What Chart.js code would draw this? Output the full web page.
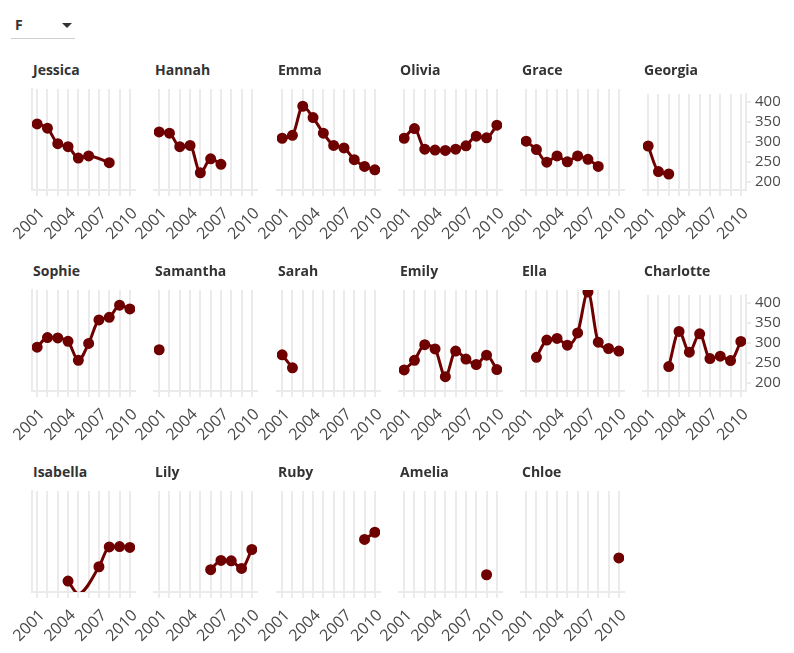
<!DOCTYPE html>
<html>
<head>
<meta charset="utf-8">
<script src="https://cdn.jsdelivr.net/npm/chart.js@4.4.1/dist/chart.umd.min.js"></script>
<style>
  body { margin: 0; background: #fff; font-family: "Open Sans", sans-serif; }
  #wrap { position: relative; width: 794px; height: 653px; overflow: hidden; }
  .picker { position: absolute; left: 11px; top: 12px; width: 64px; height: 26px; border-bottom: 1px solid #d0d0d0; }
  .picker span { position: absolute; left: 4px; top: 5px; font-size: 14px; font-weight: 700; color: #333; line-height: 16px; }
  .picker i { position: absolute; left: 51px; top: 11px; width: 0; height: 0; border-left: 5px solid transparent; border-right: 5px solid transparent; border-top: 5px solid #333; }
  .title { position: absolute; font-size: 14px; font-weight: 700; color: #333; line-height: 16px; white-space: nowrap; }
  canvas { position: absolute; }
</style>
</head>
<body>
<div id="wrap">
  <div class="picker"><span>F</span><i></i></div>
</div>
<script>
const years = ['2001', '2002', '2003', '2004', '2005', '2006', '2007', '2008', '2009', '2010'];
const yTicks = [200, 250, 300, 350, 400];
const yMin = 180, yMax = 420;

const jessica   = [337, 327, 290, 283, 256, 261, null, 245, null, null];
const hannah    = [318, 315, 283, 286, 221, 254, 241, null, null, null];
const emma      = [303, 310, 379, 352, 315, 286, 280, 252, 236, 228];
const olivia    = [303, 326, 277, 275, 274, 277, 285, 308, 304, 334];
const grace     = [296, 276, 246, 261, 247, 261, 253, 236, null, null];
const georgia   = [290, 226, 220, null, null, null, null, null, null, null];
const sophie    = [284, 307, 306, 298, 253, 293, 349, 355, 384, 375];
const samantha  = [278, null, null, null, null, null, null, null, null, null];
const sarah     = [266, 235, null, null, null, null, null, null, null, null];
const emily     = [230, 253, 290, 280, 214, 275, 256, 243, 265, 231];
const ella      = [null, 260, 301, 305, 289, 318, 415, 296, 281, 275];
const charlotte = [null, null, 241, 329, 277, 323, 261, 267, 256, 304];
const isabella  = [null, null, null, 206, 176, null, 240, 287, 288, 286];
const lily      = [null, null, null, null, null, 233, 255, 254, 236, 281];
const ruby      = [null, null, null, null, null, null, null, null, 305, 322];
const amelia    = [null, null, null, null, null, null, null, null, 221, null];
const chloe     = [null, null, null, null, null, null, null, null, null, 261];

const names = ['Jessica', 'Hannah', 'Emma', 'Olivia', 'Grace', 'Georgia',
               'Sophie', 'Samantha', 'Sarah', 'Emily', 'Ella', 'Charlotte',
               'Isabella', 'Lily', 'Ruby', 'Amelia', 'Chloe'];
const values = [jessica, hannah, emma, olivia, grace, georgia,
                sophie, samantha, sarah, emily, ella, charlotte,
                isabella, lily, ruby, amelia, chloe];

const red = '#6e0000';
const gridColor = '#ebebeb';
const tickColor = '#4a4a4a';

// small multiples layout
const plotW = 103, plotH = 101;
const padL = 32, padT = 8, axisH = 52, yAxisW = 50;

const wrap = document.getElementById('wrap');

names.forEach((name, i) => {
  const col = i % 6, row = Math.floor(i / 6);
  const first = col === 0, last = col === 5;
  const plotLeft = Math.round(32 + 122.25 * col);
  const plotTop = 89 + 201 * row;

  const title = document.createElement('div');
  title.className = 'title';
  title.textContent = name;
  title.style.left = (plotLeft + 1) + 'px';
  title.style.top = (plotTop - 27) + 'px';
  wrap.appendChild(title);

  const canvas = document.createElement('canvas');
  const w = padL + plotW + yAxisW, h = padT + plotH + axisH;
  canvas.width = w; canvas.height = h;
  canvas.style.width = w + 'px'; canvas.style.height = h + 'px';
  canvas.style.left = (plotLeft - padL) + 'px';
  canvas.style.top = (plotTop - padT) + 'px';
  wrap.appendChild(canvas);

  new Chart(canvas, {
    type: 'line',
    data: {
      labels: years,
      datasets: [{
        data: values[i],
        borderColor: red,
        backgroundColor: red,
        borderWidth: 3,
        // values below the axis floor keep their line but lose the dot
        pointRadius: c => c.raw < yMin ? 0 : 4,
        pointHoverRadius: 4,
        spanGaps: true,
        cubicInterpolationMode: 'monotone',
        clip: 0
      }]
    },
    options: {
      responsive: false,
      animation: false,
      events: [],
      layout: { padding: { left: padL, right: last ? 0 : yAxisW, top: padT, bottom: 0 } },
      plugins: { legend: { display: false }, tooltip: { enabled: false } },
      scales: {
        x: {
          offset: true,
          grid: { color: gridColor, lineWidth: 2, tickLength: 6, offset: false },
          border: { color: gridColor, width: 2 },
          ticks: {
            autoSkip: false, maxRotation: 45, minRotation: 45, padding: 8, labelOffset: 5,
            color: tickColor, font: { family: 'Open Sans', size: 16 },
            callback: (v, k) => k % 3 === 0 ? years[k] : ''
          },
          afterFit: s => { s.height = axisH; }
        },
        y: {
          min: yMin, max: yMax,
          display: first || last,
          position: first ? 'left' : 'right',
          afterBuildTicks: s => { s.ticks = yTicks.map(v => ({ value: v })); },
          afterFit: s => { s.width = last ? yAxisW : 0; },
          grid: { drawOnChartArea: false, drawTicks: last, tickLength: 5, color: gridColor, lineWidth: 2 },
          border: { color: gridColor, width: 2 },
          ticks: { display: last, padding: 4, color: tickColor, font: { family: 'Open Sans', size: 15 } }
        }
      }
    }
  });
});
</script>
</body>
</html>
